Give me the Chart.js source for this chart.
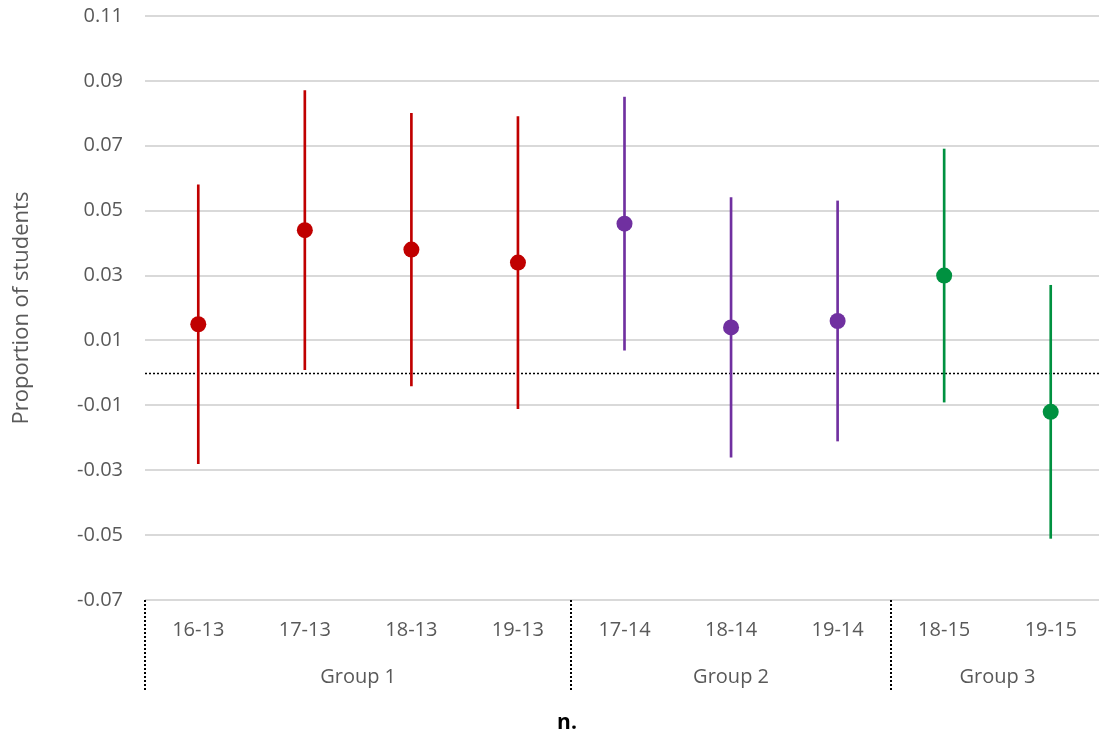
<!doctype html>
<html>
<head>
    <title>Proportion of students</title>
    <script src="https://cdn.jsdelivr.net/npm/chart.js@4/dist/chart.umd.min.js"></script>
    <style>
        html, body { margin: 0; padding: 0; background: #fff; overflow: hidden; }
        /* plot area runs a few px past the right edge of the window */
        #wrap { width: 1104px; height: 738px; }
    </style>
</head>
<body>
    <div id="wrap"><canvas id="canvas"></canvas></div>
    <script>
        // point estimates with their confidence intervals, one per cohort pair
        var categories = ['16-13', '17-13', '18-13', '19-13', '17-14', '18-14', '19-14', '18-15', '19-15'];
        var groups = [
            { label: 'Group 1', from: 0, to: 3 },
            { label: 'Group 2', from: 4, to: 6 },
            { label: 'Group 3', from: 7, to: 8 }
        ];
        var estimate = [0.015, 0.044, 0.038, 0.034, 0.046, 0.014, 0.016, 0.030, -0.012];
        var lower    = [-0.028, 0.001, -0.004, -0.011, 0.007, -0.026, -0.021, -0.009, -0.051];
        var upper    = [0.058, 0.087, 0.080, 0.079, 0.085, 0.054, 0.053, 0.069, 0.027];

        var RED = '#c00000', PURPLE = '#7030a0', GREEN = '#009140';
        var colors = [RED, RED, RED, RED, PURPLE, PURPLE, PURPLE, GREEN, GREEN];
        var FONT = "'Open Sans', sans-serif";
        var GREY = '#595959';

        var intervals = categories.map(function (c, i) { return [lower[i], upper[i]]; });

        // dotted reference line at zero, under the marks
        var zeroLine = {
            id: 'zeroLine',
            beforeDatasetsDraw: function (chart) {
                var ctx = chart.ctx, area = chart.chartArea;
                var y = Math.round(chart.scales.y.getPixelForValue(0)) + 0.5;
                ctx.save();
                ctx.strokeStyle = '#000';
                ctx.lineWidth = 1.5;
                ctx.setLineDash([2, 2]);
                ctx.beginPath();
                ctx.moveTo(area.left, y);
                ctx.lineTo(area.right, y);
                ctx.stroke();
                ctx.restore();
            }
        };

        // second row of x labels, dotted separators between groups, axis title
        var groupAxis = {
            id: 'groupAxis',
            afterDraw: function (chart) {
                var ctx = chart.ctx, x = chart.scales.x, area = chart.chartArea;
                var half = (x.getPixelForValue(1) - x.getPixelForValue(0)) / 2;
                ctx.save();
                ctx.strokeStyle = '#000';
                ctx.lineWidth = 2;
                ctx.setLineDash([2, 2]);
                groups.forEach(function (g) {
                    var left = Math.round(x.getPixelForValue(g.from) - half);
                    ctx.beginPath();
                    ctx.moveTo(left, area.bottom);
                    ctx.lineTo(left, area.bottom + 90);
                    ctx.stroke();
                });
                ctx.setLineDash([]);
                ctx.fillStyle = GREY;
                ctx.font = '20px ' + FONT;
                ctx.textAlign = 'center';
                ctx.textBaseline = 'middle';
                groups.forEach(function (g) {
                    var cx = (x.getPixelForValue(g.from) + x.getPixelForValue(g.to)) / 2;
                    ctx.fillText(g.label, cx, area.bottom + 77);
                });
                ctx.fillStyle = '#000';
                ctx.font = 'bold 21px ' + FONT;
                ctx.fillText('n.', 567, area.bottom + 123);
                ctx.restore();
            }
        };

        window.onload = function () {
            var ctx = document.getElementById('canvas').getContext('2d');
            window.myChart = new Chart(ctx, {
                data: {
                    labels: categories,
                    datasets: [{
                        type: 'line',
                        data: estimate,
                        showLine: false,
                        pointRadius: 8,
                        pointHoverRadius: 8,
                        pointBorderWidth: 0,
                        pointBackgroundColor: colors,
                        order: 0
                    }, {
                        type: 'bar',
                        data: intervals,
                        barThickness: 2,
                        backgroundColor: colors,
                        borderWidth: 0,
                        order: 1
                    }]
                },
                options: {
                    responsive: true,
                    maintainAspectRatio: false,
                    animation: false,
                    layout: { autoPadding: false, padding: { top: 16, right: 0, left: 0, bottom: 0 } },
                    plugins: {
                        legend: { display: false },
                        tooltip: { enabled: false }
                    },
                    scales: {
                        x: {
                            offset: true,
                            grid: { display: false, drawTicks: false },
                            border: { display: false },
                            ticks: {
                                color: GREY,
                                font: { family: FONT, size: 20 },
                                padding: 18,
                                maxRotation: 0
                            },
                            afterFit: function (scale) { scale.height = 138; }
                        },
                        y: {
                            min: -0.07,
                            max: 0.11,
                            grid: { color: '#d9d9d9', lineWidth: 2, drawTicks: false },
                            border: { display: false },
                            ticks: {
                                stepSize: 0.02,
                                color: GREY,
                                font: { family: FONT, size: 20 },
                                padding: 22,
                                callback: function (v) { return v.toFixed(2); }
                            },
                            title: {
                                display: true,
                                text: 'Proportion of students',
                                color: GREY,
                                font: { family: FONT, size: 22 },
                                padding: { top: 9, bottom: 0 }
                            },
                            afterFit: function (scale) {
                                scale.width = 145;
                                scale.paddingTop = 0;
                                scale.paddingBottom = 0;
                            }
                        }
                    }
                },
                plugins: [zeroLine, groupAxis]
            });
        };
    </script>
</body>
</html>
